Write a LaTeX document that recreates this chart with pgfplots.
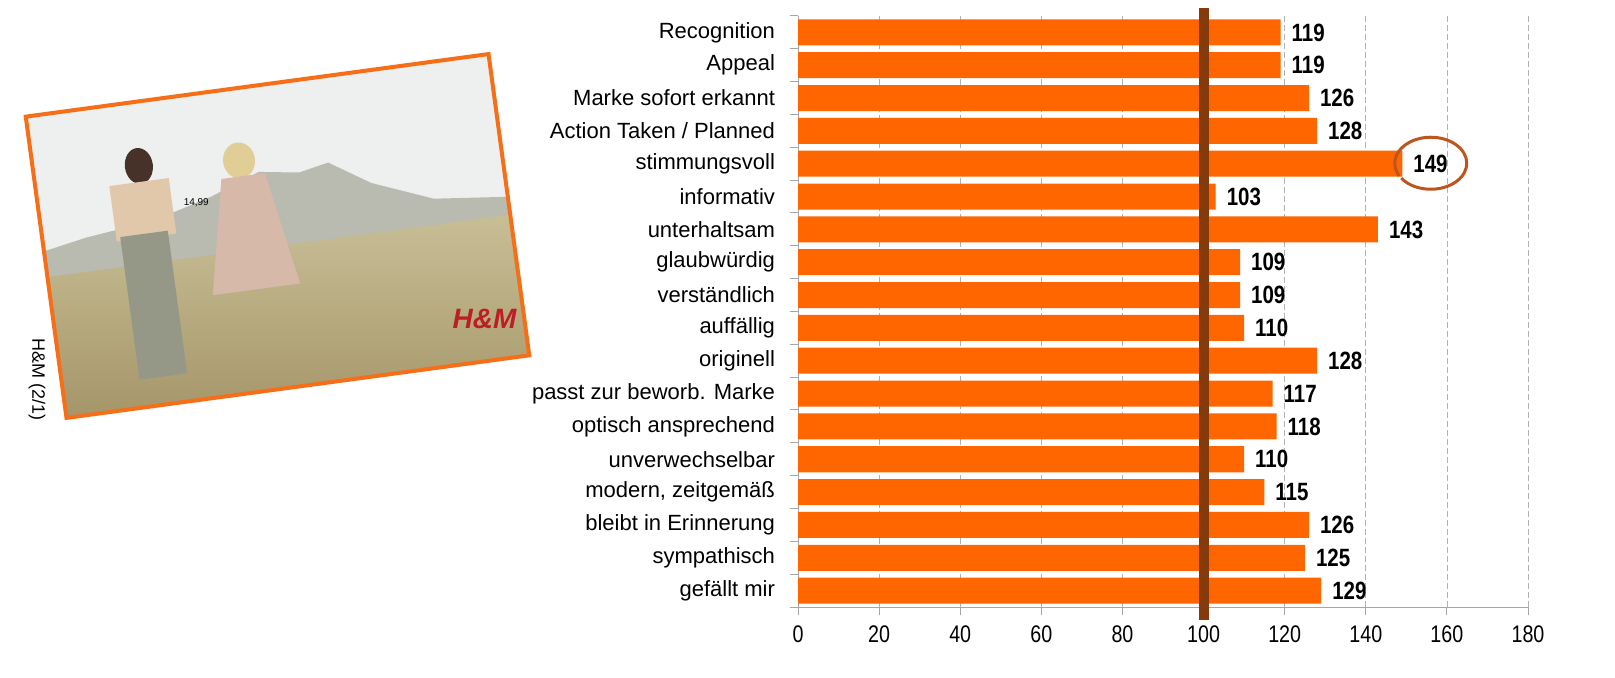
\documentclass[border=0pt]{standalone}
\usepackage{fontspec}
\setmainfont{Liberation Sans}
\newfontfamily\nar{Liberation Sans}[FakeStretch=0.82]
\usepackage{pgfplots}
\pgfplotsset{compat=1.18}
\definecolor{barorange}{RGB}{255,102,0}
\definecolor{refbrown}{RGB}{132,58,10}
\definecolor{circbrown}{RGB}{190,85,30}
\definecolor{frameorange}{RGB}{247,110,25}
\definecolor{sky}{RGB}{238,240,239}
\definecolor{hill}{RGB}{185,186,176}
\definecolor{grasstop}{RGB}{200,190,150}
\definecolor{grassbot}{RGB}{165,150,105}
\definecolor{hairdark}{RGB}{70,50,40}
\definecolor{blouse}{RGB}{225,200,170}
\definecolor{trousers}{RGB}{150,152,135}
\definecolor{hairblond}{RGB}{225,205,150}
\definecolor{dress}{RGB}{215,185,170}
\definecolor{logored}{RGB}{190,30,35}
\begin{document}
\begin{tikzpicture}
\path[use as bounding box] (0,0) rectangle (807.5pt,339pt);
% advertisement (photo placeholder)
\begin{scope}[shift={(138.75pt,221pt)}, rotate=7.7]
  \clip (-116.75pt,-76pt) rectangle (116.75pt,76pt);
  \fill[sky] (-116.75pt,-76pt) rectangle (116.75pt,76pt);
  \fill[hill] (-116.75pt,-15pt) -- (-116.75pt,8pt) -- (-95pt,12pt) -- (-60pt,16pt) -- (-30pt,24pt)
     -- (-5pt,33pt) -- (15pt,30pt) -- (30pt,33pt) -- (50pt,20pt) -- (80pt,8pt) -- (116.75pt,4pt) -- (116.75pt,-15pt) -- cycle;
  \shade[top color=grasstop, bottom color=grassbot] (-116.75pt,-76pt) rectangle (116.75pt,-5pt);
  % figures
  \fill[hairdark] (-64pt,44pt) ellipse [x radius=7pt, y radius=9pt];
  \fill[blouse] (-80pt,8pt) rectangle (-50pt,36pt);
  \fill[trousers] (-78pt,-62pt) rectangle (-54pt,10pt);
  \fill[hairblond] (-14pt,40pt) ellipse [x radius=8pt, y radius=9pt];
  \fill[dress] (-24pt,32pt) -- (-2pt,32pt) -- (8pt,-25pt) -- (-36pt,-25pt) -- cycle;
  \node[font=\fontsize{5}{5}\selectfont] at (-38pt,22pt) {14,99};
  \node[font=\bfseries\itshape\fontsize{14}{14}\selectfont, text=logored] at (97pt,-55pt) {H\&M};
\end{scope}
\draw[frameorange, line width=2pt, shift={(138.75pt,221pt)}, rotate=7.7] (-116.75pt,-76pt) rectangle (116.75pt,76pt);
\node[rotate=-90, font=\fontsize{9}{11}\selectfont] at (18.5pt,149pt) {H\&M (2/1)};

\begin{axis}[
  at={(399pt,35.5pt)}, anchor=south west,
  scale only axis, width=365pt, height=295.5pt,
  xbar, bar width=13pt,
  xmin=0, xmax=180, ymin=-0.5, ymax=17.5, y dir=reverse,
  axis x line*=bottom, axis y line*=left,
  axis line style={gray!70, -},
  xtick={0,20,...,180},
  xmajorgrids,
  major grid style={gray!60, dash pattern=on 3pt off 1.5pt, line width=0.4pt},
  ytick={-0.5,0.5,...,17.5},
  y tick label as interval,
  yticklabels={Recognition, Appeal, Marke sofort erkannt, Action Taken / Planned, stimmungsvoll, informativ, unterhaltsam, glaubwürdig, verständlich, auffällig, originell, passt zur beworb. Marke, optisch ansprechend, unverwechselbar, {modern, zeitgemäß}, bleibt in Erinnerung, sympathisch, gefällt mir},
  tick align=outside,
  tick style={gray!70, line width=0.5pt},
  major tick length=4pt,
  yticklabel style={font=\fontsize{11}{13}\selectfont, xshift=-4pt},
  xticklabel style={font=\nar\fontsize{12}{14}\selectfont, yshift=-2pt},
  /pgf/number format/assume math mode=true,
  nodes near coords,
  nodes near coords style={font=\nar\bfseries\fontsize{12.5}{14}\selectfont, xshift=2pt, text=black},
  clip=false,
]
\addplot[fill=barorange, draw=none] coordinates {
  (119,0) (119,1) (126,2) (128,3) (149,4) (103,5) (143,6) (109,7) (109,8)
  (110,9) (128,10) (117,11) (118,12) (110,13) (115,14) (126,15) (125,16) (129,17)};
\draw[refbrown, line width=5pt] (axis cs:100,-0.74) -- (axis cs:100,17.9);
\draw[circbrown, line width=1.5pt] ([shift={(-14.3pt,-7.2pt)}]axis cs:155.8,4)
   arc[start angle=215, end angle=560, x radius=18pt, y radius=13pt] -- ++(1pt,-2pt);
\end{axis}
\end{tikzpicture}
\end{document}
